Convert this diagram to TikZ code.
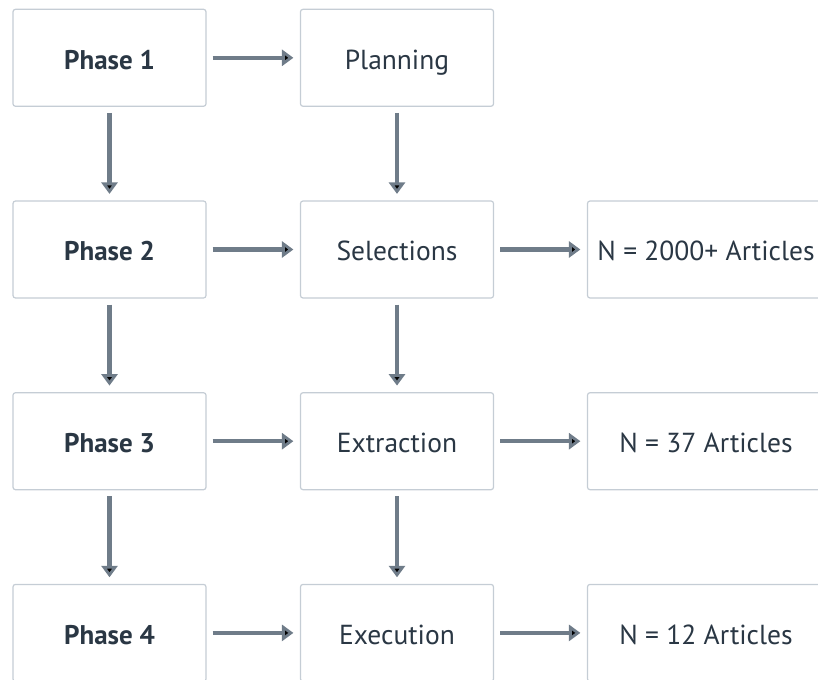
\documentclass[tikz,border=0pt]{standalone}
\usepackage{fontspec}
\setmainfont{PT Sans}
\usetikzlibrary{positioning,arrows.meta}
\definecolor{boxline}{HTML}{C5CDD5}
\definecolor{flowtxt}{HTML}{2A3744}
\definecolor{flowarrow}{HTML}{6F7C89}
\tikzset{
  box/.style={draw=boxline, line width=1.2pt, rounded corners=2.5pt, fill=white,
    minimum width=193pt, minimum height=97pt, inner sep=0pt, text=flowtxt,
    text height=25pt, text depth=2.4pt,
    font=\fontsize{27.5}{31}\selectfont},
  phase/.style={box, font=\fontsize{27}{31}\selectfont\bfseries},
  count/.style={box, minimum width=237pt},
  flow/.style={-{Triangle[length=11.5pt,width=16pt]}, draw=flowarrow, line width=4.5pt,
    shorten <=6pt, shorten >=6.5pt}
}
\begin{document}
\begin{tikzpicture}[x=1pt,y=1pt,on grid,node distance=191.7pt and 287.5pt]
   \useasboundingbox (0,0) rectangle (818,-679);
   \clip (0,0) rectangle (818,-679);
   \node[phase] (p1) at (109.5,-57.8) {Phase 1};
   \node[phase] (p2) [below=of p1] {Phase 2};
   \node[phase] (p3) [below=of p2] {Phase 3};
   \node[phase] (p4) [below=of p3] {Phase 4};
   \node[box] (plan) [right=of p1] {Planning};
   \node[box] (sel) [right=of p2] {Selections};
   \node[box] (ext) [right=of p3] {Extraction};
   \node[box] (exe) [right=of p4] {Execution};
   \node[count] (n1) [right=309pt of sel] {N = 2000+ Articles};
   \node[count] (n2) [right=309pt of ext] {N = 37 Articles};
   \node[count] (n3) [right=309pt of exe] {N = 12 Articles};
    \path[flow]
    (p1) edge (plan)
         edge (p2)
    (p2) edge (sel)
         edge (p3)
    (p3) edge (ext)
         edge (p4)
    (p4) edge (exe)
    (plan) edge (sel)
    (sel) edge (n1)
          edge (ext)
    (ext) edge (n2)
          edge (exe)
    (exe) edge (n3);
\end{tikzpicture}
\end{document}
